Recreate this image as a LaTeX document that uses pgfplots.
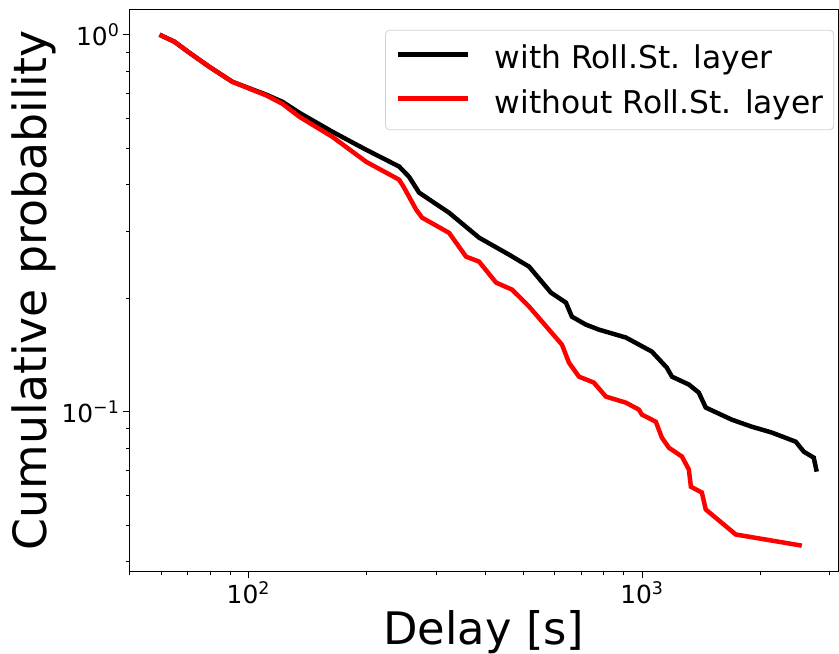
\documentclass[border=0pt]{standalone}
\usepackage{fontspec}
\setmainfont{DejaVu Sans}
\usepackage{pgfplots}
\pgfplotsset{compat=1.18}
\begin{document}
\begin{tikzpicture}
\begin{axis}[
  xmode=log, ymode=log,
  scale only axis, width=709bp, height=563bp,
  xmin=50, xmax=3150, ymin=0.0377, ymax=1.17,
  xtick={100,1000}, xticklabels={10\textsuperscript{2},10\textsuperscript{3}},
  minor xtick={50,60,70,80,90,200,300,400,500,600,700,800,900,2000,3000},
  ytick={0.1,1}, yticklabels={10\textsuperscript{−1},10\textsuperscript{0}},
  minor ytick={0.04,0.05,0.06,0.07,0.08,0.09,0.2,0.3,0.4,0.5,0.6,0.7,0.8,0.9},
  tick align=outside, major tick length=7bp, minor tick length=4bp,
  xtick pos=left, ytick pos=left,
  tick style={line width=0.8bp, black},
  axis line style={line width=0.8bp},
  ticklabel style={font=\fontsize{25}{30}\selectfont},
  xlabel={Delay [s]}, ylabel={Cumulative probability},
  xlabel style={font=\fontsize{45}{50}\selectfont, inner sep=0pt,
    at={(axis description cs:0.5,-0.1297)}, anchor=base},
  ylabel style={font=\fontsize{46}{50}\selectfont, inner sep=0pt,
    at={(axis description cs:-0.1045,0.5)}, anchor=south},
  legend style={at={(0.9944,0.963)}, anchor=north east, draw=black!18, rounded corners=4bp,
    line width=0.8bp, font=\fontsize{31.5}{36}\selectfont, row sep=19bp, column sep=25bp,
    inner xsep=10bp, inner ysep=15bp, nodes={inner sep=0pt}},
  legend cell align=left,
  legend image code/.code={\draw[#1] (0bp,0.36em) -- (70bp,0.36em);},
]
\addplot[black, line width=4.5bp] coordinates {
(59.5,1.0) (64.9,0.958) (70.8,0.896) (79.6,0.822) (91.1,0.750) (111.1,0.693)
(122,0.664) (134.7,0.621) (163.4,0.553) (199.3,0.495) (241.6,0.447) (256,0.42)
(271.6,0.381) (323.7,0.337) (385.8,0.2894) (459.6,0.2609) (516.8,0.2425)
(587.5,0.2068) (641.3,0.1946) (664,0.1786) (721,0.1701) (778,0.165) (911,0.1572)
(1060,0.1443) (1157,0.1308) (1192,0.1238) (1316,0.118) (1395,0.1123) (1453,0.1025)
(1692,0.0952) (1902,0.0912) (2138,0.088) (2460,0.0832) (2578,0.0783) (2733,0.0755)
(2781,0.0693)
};
\addlegendentry{with Roll.St. layer}
\addplot[red, line width=4.5bp] coordinates {
(59.5,1.0) (64.9,0.958) (70.8,0.896) (79.6,0.822) (91.1,0.750) (111.1,0.690)
(122,0.656) (134.7,0.606) (163.4,0.536) (199.3,0.460) (241.6,0.4124) (248,0.395)
(267,0.3434) (276.4,0.327) (323.7,0.298) (357.5,0.2577) (385.8,0.25) (426,0.22)
(467.7,0.2107) (516.8,0.19) (580.7,0.165) (626.6,0.1505) (652.6,0.1349) (692,0.1238)
(755,0.1194) (810,0.1096) (911,0.1056) (983,0.1012) (1000,0.0982) (1085,0.094)
(1124,0.0853) (1171,0.0802) (1264,0.076) (1316,0.0702) (1332,0.0632) (1420,0.061)
(1453,0.055) (1732,0.0472) (2548,0.0441)
};
\addlegendentry{without Roll.St. layer}
\end{axis}
\path ([xshift=-130bp,yshift=9bp]current axis.north west);
\path ([xshift=1bp,yshift=-82bp]current axis.south east);
\end{tikzpicture}
\end{document}
